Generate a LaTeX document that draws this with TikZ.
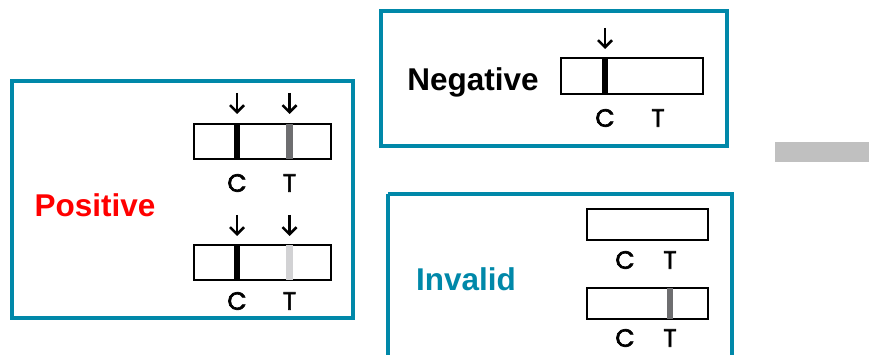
\documentclass[tikz,border=0pt]{standalone}
\usepackage{fontspec}
\setmainfont{Liberation Sans}
\newfontfamily\stripfont[FakeBold=2.5]{Poppins}
\usetikzlibrary{arrows.meta}
\definecolor{frameteal}{HTML}{0088A9}
\definecolor{posred}{HTML}{FF0000}
\definecolor{tline}{HTML}{6E6E70}
\definecolor{tfaint}{HTML}{D2D2D4}
\definecolor{barg}{HTML}{C0C0C0}
\tikzset{
  x=1pt, y=-1pt,
  panel/.style={draw=frameteal, line width=3.5pt},
  stripbox/.style={draw=black, line width=2pt, fill=white},
  band/.style={line width=6.5pt},
  pointer/.style={line width=2.2pt, -{Straight Barb[length=7pt,width=14pt,line width=2.5pt]}},
  letter/.style={font=\stripfont\fontsize{25}{25}\selectfont, inner sep=0pt},
  title/.style={font=\fontsize{31.5}{31.5}\selectfont\bfseries, inner sep=0pt}
}
\begin{document}
\begin{tikzpicture}
\useasboundingbox (0,0) rectangle (869,355);

% ---- Positive panel ----
\draw[panel] (12,81) rectangle (353,318);
\node[title, text=posred] (pos) at (95,205) {Positive};
% upper strip
\draw[stripbox] (194,124) rectangle (331,159);
\draw[band, black] (237,124) -- (237,159);
\draw[band, tline] (289.5,124) -- (289.5,159);
\coordinate (pa1) at (237,93); \coordinate (pb1) at (237,114);
\coordinate (pa2) at (289.5,93); \coordinate (pb2) at (289.5,114);
\draw[pointer] (pa1) -- (pb1);
\draw[pointer] (pa2) -- (pb2);
\node[letter] (pc1) at (237,183) {C};
\node[letter] (pt1) at (289.5,183) {T};
% lower strip
\draw[stripbox] (194,245) rectangle (331,280);
\draw[band, black] (237,245) -- (237,280);
\draw[band, tfaint] (289.5,245) -- (289.5,280);
\coordinate (pa3) at (237,215); \coordinate (pb3) at (237,236);
\coordinate (pa4) at (289.5,215); \coordinate (pb4) at (289.5,236);
\draw[pointer] (pa3) -- (pb3);
\draw[pointer] (pa4) -- (pb4);
\node[letter] (pc2) at (237,301) {C};
\node[letter] (pt2) at (289.5,301) {T};

% ---- Negative panel ----
\draw[panel] (381,11) rectangle (727,146);
\node[title, text=black] (neg) at (473,82) {Negative};
\draw[stripbox] (561,58) rectangle (703,94);
\draw[band, black] (605,58) -- (605,94);
\coordinate (na) at (605,28); \coordinate (nb) at (605,49);
\draw[pointer] (na) -- (nb);
\node[letter] (nc) at (605,118) {C};
\node[letter] (nt) at (658,118) {T};

% ---- Invalid panel ----
\draw[panel] (388,194) -- (388,360) (388,194) -- (732,194) -- (732,360);
\node[title, text=frameteal] (inv) at (466,279) {Invalid};
\draw[stripbox] (587,209) rectangle (708,240);
\node[letter] (ic1) at (625,260) {C};
\node[letter] (it1) at (670,260) {T};
\draw[stripbox] (587,288) rectangle (708,319);
\draw[band, tline, line width=5.5pt] (670,288) -- (670,319);
\node[letter] (ic2) at (625,338) {C};
\node[letter] (it2) at (670,338) {T};

% ---- grey bar at right edge ----
\fill[barg] (775,142) rectangle (869,162);
\end{tikzpicture}
\end{document}
